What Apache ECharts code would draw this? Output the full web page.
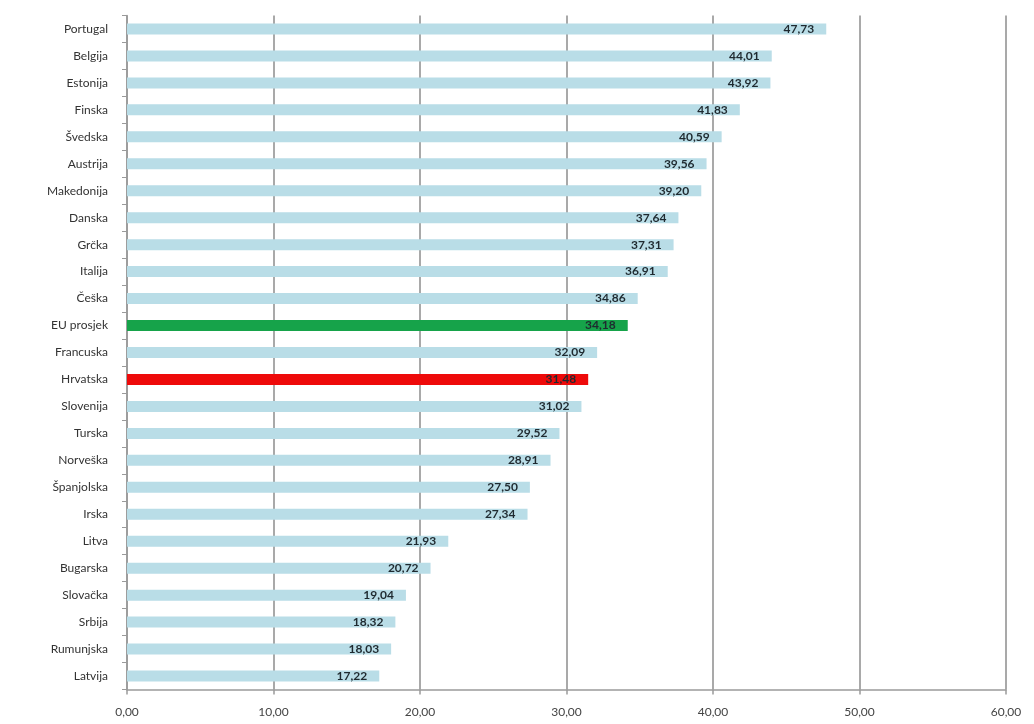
<!DOCTYPE html>
<html>
<head>
<meta charset="utf-8">
<script src="https://cdn.jsdelivr.net/npm/echarts@6/dist/echarts.min.js"></script>
<style>html,body{margin:0;padding:0;background:#fff}#c{width:1034px;height:724px}</style>
</head>
<body>
<div id="c"></div>
<script>
const categories = ["Portugal","Belgija","Estonija","Finska","Švedska","Austrija","Makedonija","Danska","Grčka","Italija","Češka","EU prosjek","Francuska","Hrvatska","Slovenija","Turska","Norveška","Španjolska","Irska","Litva","Bugarska","Slovačka","Srbija","Rumunjska","Latvija"];
const values = [47.73,44.01,43.92,41.83,40.59,39.56,39.20,37.64,37.31,36.91,34.86,34.18,32.09,31.48,31.02,29.52,28.91,27.50,27.34,21.93,20.72,19.04,18.32,18.03,17.22];
const highlight = {"EU prosjek": "#16a34a", "Hrvatska": "#ee0a0a"};

const fmt = v => v.toFixed(2).replace('.', ',');
const data = values.map((v, i) => {
  const c = highlight[categories[i]];
  return c ? { value: v, itemStyle: { color: c } } : { value: v };
});

const chart = echarts.init(document.getElementById('c'));
chart.setOption({
  animation: false,
  grid: { left: 127, right: 28, top: 15.5, bottom: 34.5, containLabel: false },
  xAxis: {
    type: 'value', min: 0, max: 60, interval: 10,
    axisLine: { show: true, lineStyle: { color: '#9a9a9a', width: 1.5 } },
    axisTick: { show: true, length: 5, lineStyle: { color: '#9a9a9a', width: 1.5 } },
    splitLine: { show: true, lineStyle: { color: '#8c8c8c', width: 1.5 } },
    axisLabel: { formatter: fmt, color: '#444', fontFamily: 'Lato', fontSize: 12, margin: 17 }
  },
  yAxis: {
    type: 'category', data: categories, inverse: true,
    axisLine: { show: true, lineStyle: { color: '#9a9a9a', width: 1.5 } },
    axisTick: { show: true, length: 5, lineStyle: { color: '#9a9a9a' } },
    axisLabel: { color: '#333', fontFamily: 'Lato', fontSize: 12, margin: 19 }
  },
  series: [{
    type: 'bar', data: data, barWidth: 11,
    itemStyle: { color: '#b9dde7' },
    label: {
      show: true, position: 'insideRight', distance: 12,
      formatter: p => fmt(p.value),
      color: '#1f2a30', fontWeight: 'bold', fontFamily: 'Lato', fontSize: 12
    }
  }]
});
</script>
</body>
</html>
